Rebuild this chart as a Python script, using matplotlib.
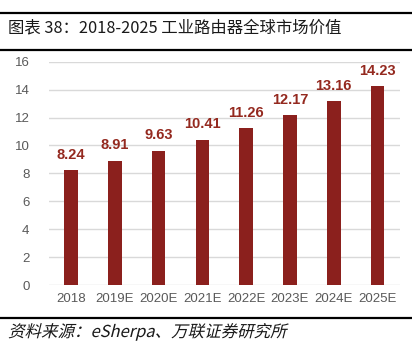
import matplotlib.pyplot as plt
from matplotlib.lines import Line2D
from matplotlib.textpath import TextPath
from matplotlib.patches import PathPatch
from matplotlib.font_manager import FontProperties
from matplotlib.transforms import Affine2D, IdentityTransform

plt.rcParams['font.family'] = ['Liberation Sans', 'Noto Sans CJK SC', 'DejaVu Sans']

# Données
years = ['2018', '2019E', '2020E', '2021E', '2022E', '2023E', '2024E', '2025E']
values = [8.24, 8.91, 9.63, 10.41, 11.26, 12.17, 13.16, 14.23]
yticks = [0, 2, 4, 6, 8, 10, 12, 14, 16]

bar_color = '#8B201D'
label_color = '#94291F'
grid_color = '#D9D9D9'
tick_color = '#595959'

fig = plt.figure(figsize=(4.12, 3.42), dpi=100)
ax = fig.add_axes([49 / 412, 1 - 285 / 342, 350.5 / 412, 223.3 / 342])

x = range(len(years))
ax.bar(x, values, width=0.31, color=bar_color, zorder=3)
for xi, v in zip(x, values):
    ax.annotate(f'{v:.2f}', (xi, v), xytext=(0, 6), textcoords='offset points',
                ha='center', va='bottom', color=label_color, fontsize=10.5, fontweight='bold')

ax.set_ylim(0, 16)
ax.set_xlim(-0.5, len(years) - 0.5)
ax.set_yticks(yticks)
ax.set_xticks(list(x))
ax.set_xticklabels(years)
ax.yaxis.grid(True, color=grid_color, linewidth=1)
ax.set_axisbelow(True)
for s in ax.spines.values():
    s.set_visible(False)
ax.tick_params(axis='y', length=0, pad=14, labelsize=9.5, labelcolor=tick_color)
ax.tick_params(axis='x', length=0, pad=6, labelsize=9.5, labelcolor=tick_color)

# Titre et source
cjk = ['Noto Sans CJK SC', 'DejaVu Sans']
H = 342
fig.add_artist(Line2D([0, 1], [1 - 13 / H] * 2, color='black', linewidth=1.6))
fig.add_artist(Line2D([0, 1], [1 - 50 / H] * 2, color='black', linewidth=1.6))
fig.text(8 / 412, 1 - 28 / H, '图表 38：2018-2025 工业路由器全球市场价值',
         family=cjk, fontsize=11.8, va='center', ha='left', color='#1a1a1a')
fig.add_artist(Line2D([0, 1], [1 - 318 / H] * 2, color='black', linewidth=1.6))

# source en italique (inclinaison simulée)
src = '资料来源：eSherpa、万联证券研究所'
tp = TextPath((0, 0), src, size=16.5, prop=FontProperties(family='Noto Sans CJK SC'))
tr = Affine2D().skew_deg(14, 0).translate(8, H - 337) + IdentityTransform()
fig.add_artist(PathPatch(tp, transform=tr, color='#1a1a1a', lw=0))

fig.savefig('out.png', dpi=100)
